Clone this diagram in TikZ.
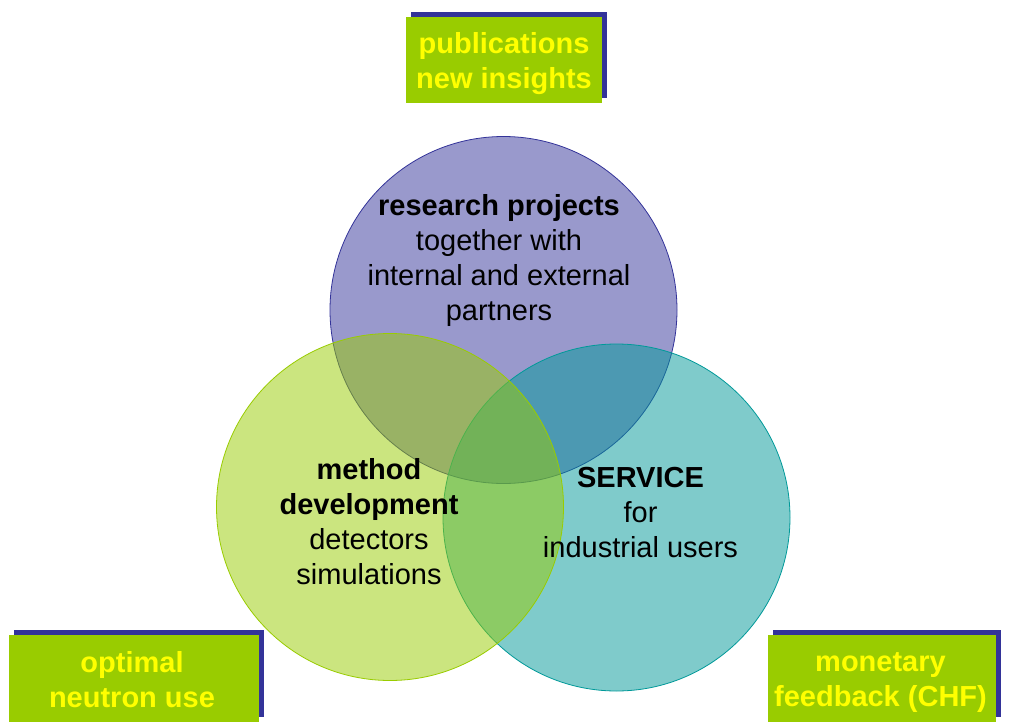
\documentclass[tikz,border=0pt]{standalone}
\usepackage{fontspec}
\setmainfont{Liberation Sans}
\usetikzlibrary{shadows}
\definecolor{boxgreen}{HTML}{99CC00}
\definecolor{shadowblue}{HTML}{333399}
\definecolor{purplefill}{HTML}{9999CC}
\definecolor{purpleline}{HTML}{333399}
\definecolor{tealbase}{HTML}{009999}
\definecolor{greenbase}{HTML}{99CC00}
\definecolor{txtyellow}{HTML}{FFFF00}
\begin{document}
\begin{tikzpicture}[x=1pt,y=-1pt,
  venn/.style={circle, minimum size=347pt, inner sep=0pt, line width=0.8pt},
  infobox/.style={rectangle, fill=boxgreen, inner sep=0pt,
     drop shadow={shadow xshift=5pt, shadow yshift=5pt, fill=shadowblue, opacity=1}},
  boxtext/.style={align=center, inner sep=0pt, text=txtyellow,
     font=\fontsize{29pt}{35pt}\selectfont\bfseries},
  body/.style={align=center, inner sep=0pt, text=black, font=\fontsize{29pt}{35pt}\selectfont}
]
\useasboundingbox[fill=white] (0,0) rectangle (1010,728);
% circles
\node[venn, fill=purplefill, draw=purpleline] (research) at (503.5,310) {};
\node[venn, fill=tealbase, fill opacity=0.5, draw=tealbase] (service) at (616.5,517.5) {};
\node[venn, fill=greenbase, fill opacity=0.5, draw=greenbase] (method) at (390,507) {};
% circle texts
\node[body] (researchtxt) at (499,260.5) {\textbf{research projects}\\together with\\internal and external\\partners};
\node[body] (methodtxt) at (369,521.5) {\textbf{method}\\\textbf{development}\\detectors\\simulations};
\node[body] (servicetxt) at (640.5,513) {\textbf{SERVICE}\\for\\industrial users};
% boxes
\node[infobox, minimum width=196pt, minimum height=86pt] (pub) at (504,59.7) {};
\node[infobox, minimum width=250pt, minimum height=87pt] (opt) at (134,678.3) {};
\node[infobox, minimum width=228pt, minimum height=87pt] (mon) at (882,678.3) {};
\node[boxtext] (pubtxt) at (504,63.2) {publications\\new insights};
\node[boxtext] (opttxt) at (132,680) {optimal\\neutron use};
\node[boxtext] (montxt) at (880.5,682.8) {monetary\\feedback (CHF)};
\end{tikzpicture}
\end{document}
